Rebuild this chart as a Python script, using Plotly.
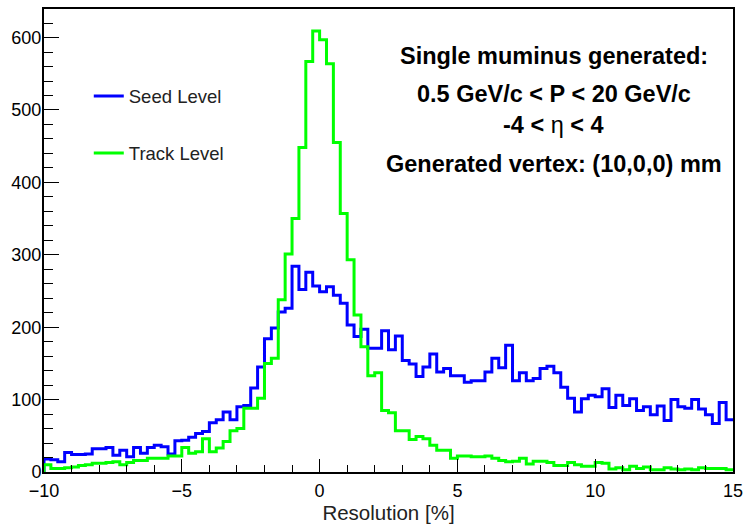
import numpy as np
import plotly.graph_objects as go

# Binning: 100 bins of 0.25 % from -10 % to 15 %
x_min, x_max, n_bins = -10.0, 15.0, 100
bin_edges = np.linspace(x_min, x_max, n_bins + 1)

# Entries per bin, seed-level resolution
seed_counts = [
    18, 17, 14, 27, 24, 24, 25, 32, 32, 34,
    23, 30, 21, 34, 26, 34, 37, 35, 25, 43,
    44, 48, 53, 56, 68, 72, 83, 72, 90, 92,
    116, 145, 184, 199, 221, 226, 284, 252, 276, 257,
    249, 256, 244, 233, 203, 187, 197, 171, 171, 195,
    169, 188, 154, 149, 132, 145, 163, 138, 143, 133,
    133, 124, 126, 126, 138, 157, 144, 175, 126, 137,
    126, 129, 143, 146, 137, 117, 102, 83, 101, 106,
    104, 115, 89, 106, 92, 101, 85, 90, 79, 91,
    71, 100, 90, 88, 100, 87, 79, 67, 96, 72,
]

# Entries per bin, track-level resolution
track_counts = [
    10, 5, 5, 6, 7, 9, 10, 12, 12, 13,
    14, 10, 13, 16, 16, 19, 19, 19, 22, 22,
    34, 26, 28, 46, 28, 33, 42, 57, 60, 88,
    88, 102, 150, 157, 238, 301, 350, 448, 567, 609,
    597, 564, 455, 357, 293, 217, 173, 133, 137, 85,
    82, 57, 57, 45, 49, 46, 37, 30, 30, 19,
    22, 22, 21, 21, 22, 19, 16, 14, 15, 19,
    11, 15, 15, 13, 9, 9, 13, 10, 8, 8,
    13, 12, 4, 6, 3, 8, 5, 7, 3, 3,
    6, 4, 3, 4, 3, 6, 5, 5, 5, 3,
]

series_names = ["Seed Level", "Track Level"]
series_colors = ["#0000ff", "#00ff00"]

info_lines = [
    "<b>Single muminus generated:</b>",
    "<b>0.5 GeV/c &lt; P &lt; 20 GeV/c</b>",
    "<b>-4 &lt; </b>η<b> &lt; 4</b>",
    "<b>Generated vertex: (10,0,0) mm</b>",
]

FONT = "Liberation Sans, Arial, Helvetica, sans-serif"


def step_outline(counts):
    """Outline of a histogram: start on the baseline, then one step per bin."""
    xs = np.concatenate([[bin_edges[0]], bin_edges])
    ys = np.concatenate([[0], counts, [counts[-1]]])
    return xs, ys


fig = go.Figure()
for name, counts, color, leg in zip(series_names, [seed_counts, track_counts],
                                    series_colors, ["legend", "legend2"]):
    xs, ys = step_outline(counts)
    fig.add_trace(go.Scatter(
        x=xs, y=ys, mode="lines", name=name,
        line=dict(color=color, width=3, shape="hv"),
        legend=leg, showlegend=True,
    ))

y_top = 1.05 * max(max(seed_counts), max(track_counts))

axis_common = dict(
    showline=True, mirror=True, linecolor="black", linewidth=2,
    showgrid=False, zeroline=False,
    ticks="inside", tickcolor="black", tickwidth=1,
    tickfont=dict(family=FONT, size=18, color="black"),
)

legend_style = dict(xanchor="left", yanchor="middle", bgcolor="rgba(0,0,0,0)",
                    itemwidth=30, font=dict(family=FONT, size=18.5, color="#222"))

fig.update_layout(
    width=750, height=526,
    margin=dict(l=44, r=11, t=7, b=48),
    paper_bgcolor="white", plot_bgcolor="white",
    showlegend=True,
    xaxis=dict(
        range=[x_min, x_max], tick0=-10, dtick=5, ticklen=13,
        minor=dict(dtick=1, ticklen=7, ticks="inside", tickcolor="black"),
        ticklabelstandoff=1,
        title=dict(text="Resolution [%]", font=dict(family=FONT, size=20.5, color="#222"),
                   standoff=4),
        **axis_common,
    ),
    yaxis=dict(
        range=[0, y_top], tick0=0, dtick=100, ticklen=15,
        minor=dict(dtick=20, ticklen=9, ticks="inside", tickcolor="black"),
        ticklabelstandoff=-3,
        **axis_common,
    ),
    legend=dict(x=0.065, y=0.811, **legend_style),
    legend2=dict(x=0.065, y=0.688, **legend_style),
)

for text, yp in zip(info_lines, [0.898, 0.817, 0.749, 0.665]):
    fig.add_annotation(
        text=text, xref="paper", yref="paper", x=0.74, y=yp,
        xanchor="center", yanchor="middle", showarrow=False,
        font=dict(family=FONT, size=23.5, color="black"),
    )

fig.write_html("out.html")
